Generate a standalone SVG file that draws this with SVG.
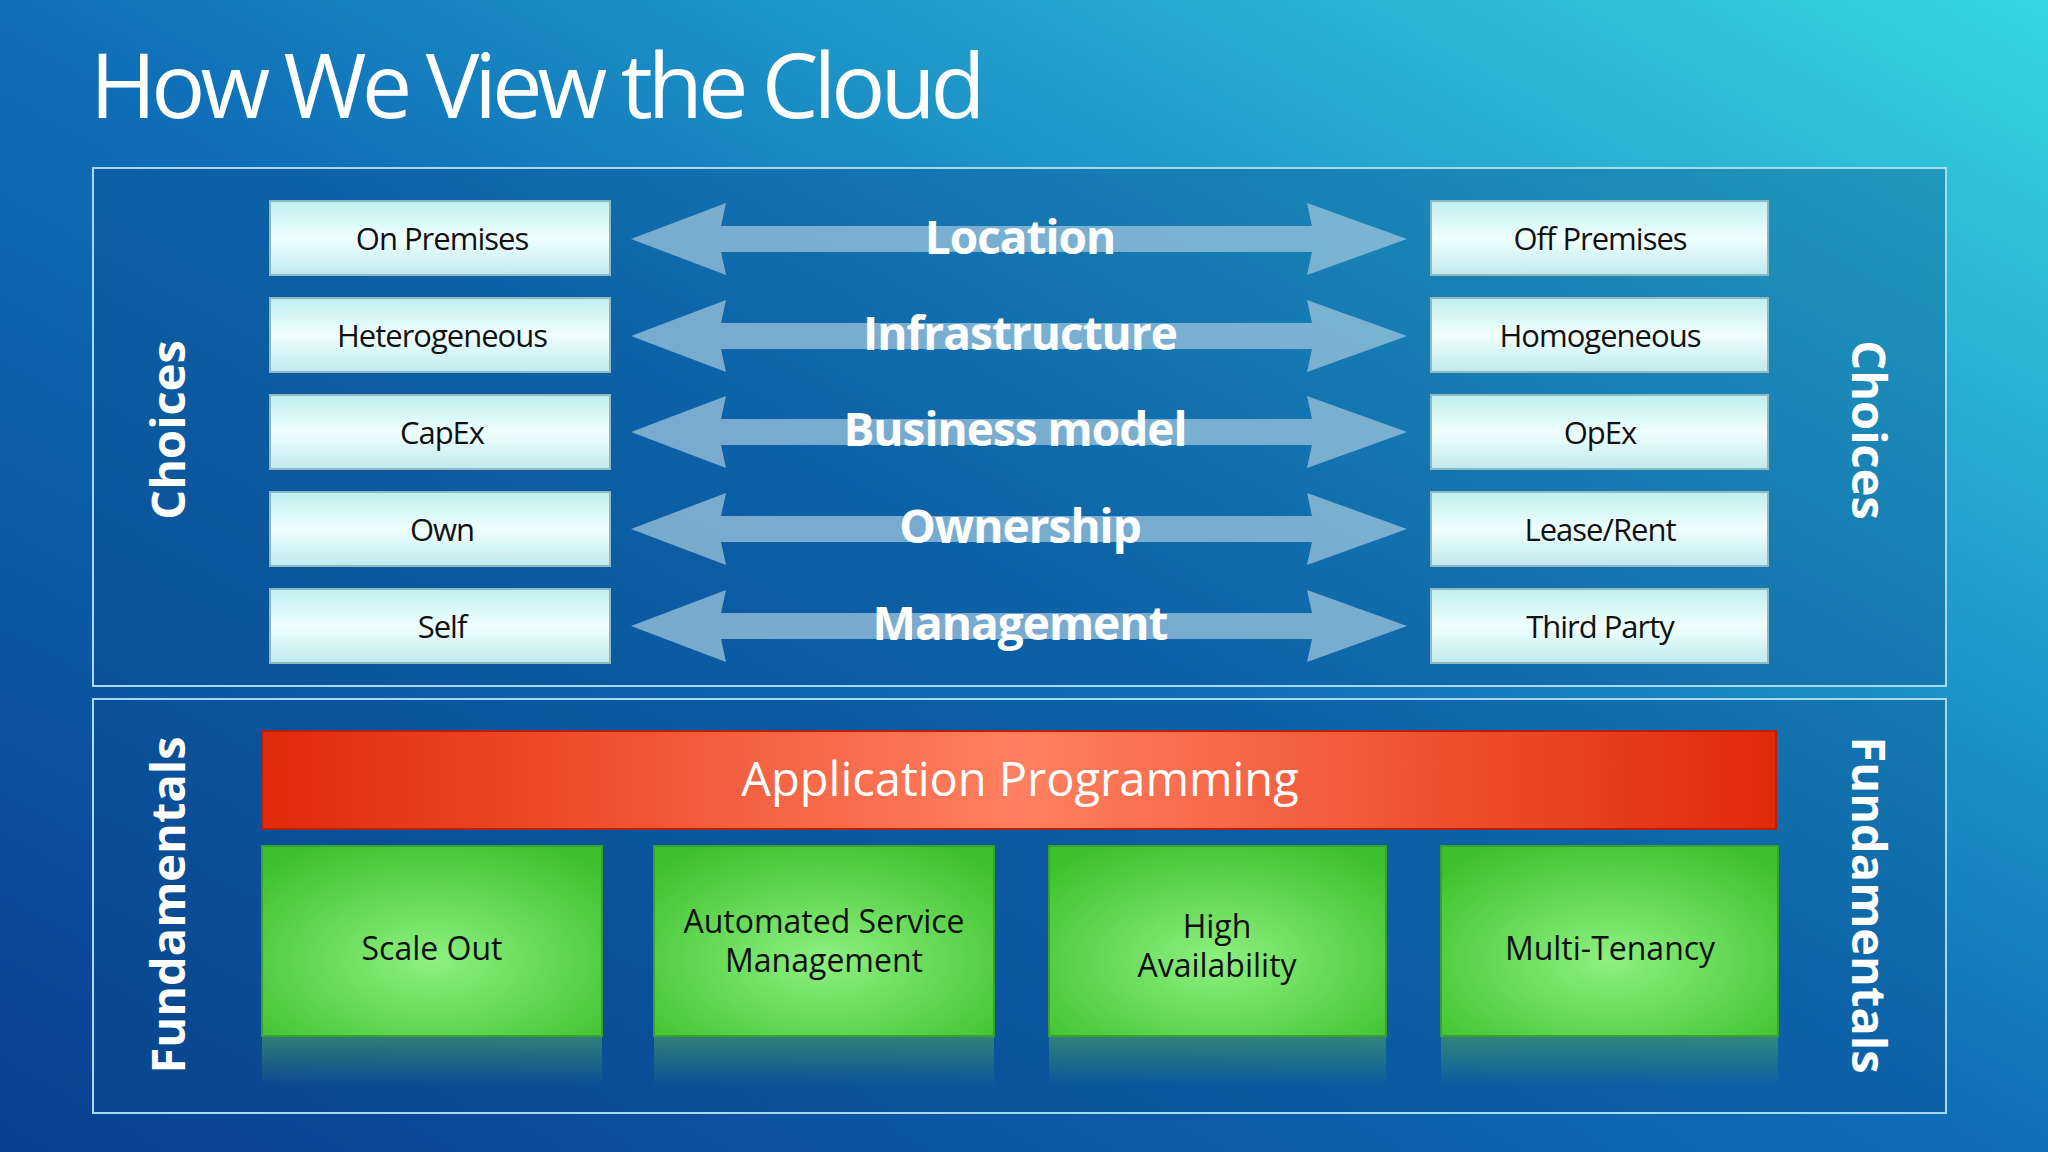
<svg xmlns="http://www.w3.org/2000/svg" width="2048" height="1152" viewBox="0 0 2048 1152">
<defs>
<linearGradient id="bg" x1="0" y1="1" x2="1" y2="0">
<stop offset="0" stop-color="#0a3f8f"/><stop offset="0.5" stop-color="#0f6fb8"/><stop offset="1" stop-color="#36d6e2"/>
</linearGradient>
<linearGradient id="box" x1="0" y1="0" x2="0" y2="1">
<stop offset="0" stop-color="#bfeff0"/><stop offset="0.5" stop-color="#f0ffff"/><stop offset="1" stop-color="#bfeaee"/>
</linearGradient>
<linearGradient id="red" x1="0" y1="0" x2="1" y2="0">
<stop offset="0" stop-color="#e02a0a"/><stop offset="0.5" stop-color="#ff8060"/><stop offset="1" stop-color="#e02a0a"/>
</linearGradient>
<radialGradient id="green" cx="0.5" cy="0.6" r="0.7">
<stop offset="0" stop-color="#8ef080"/><stop offset="1" stop-color="#3cc02c"/>
</radialGradient>
<linearGradient id="refl" x1="0" y1="0" x2="0" y2="1">
<stop offset="0" stop-color="#4aa060" stop-opacity="0.6"/><stop offset="1" stop-color="#4aa060" stop-opacity="0"/>
</linearGradient>
<path id="arr" d="M0,0 L95,-36 L90,-13 L681,-13 L676,-36 L776,0 L676,36 L681,13 L90,13 L95,36 Z"/>
</defs>
<style>
.panel{fill:#0a4a8a;fill-opacity:0.35;stroke:#a8d8ec;stroke-width:2}
.b{fill:url(#box);stroke:#8fb8c0;stroke-width:2}
.bt{font-family:"Open Sans",sans-serif;font-size:31px;fill:#111;text-anchor:middle;letter-spacing:-1px}
.lab{font-family:"Open Sans",sans-serif;font-weight:bold;font-size:46px;fill:#fff;text-anchor:middle;letter-spacing:-1px}
.arrow{fill:#9cc4dc;fill-opacity:0.75}
.side{font-family:"Open Sans",sans-serif;font-weight:bold;font-size:47px;fill:#fff;text-anchor:middle}
.g{fill:url(#green);stroke:#3aa030;stroke-width:2}
.gt{font-family:"Open Sans",sans-serif;font-size:32px;fill:#111;text-anchor:middle}
</style>
<rect width="2048" height="1152" fill="url(#bg)"/>
<text x="90" y="118" font-family="Open Sans, sans-serif" font-size="90" fill="#fff" letter-spacing="-5">How We View the Cloud</text>
<rect class="panel" x="93" y="168" width="1853" height="518"/>
<rect class="panel" x="93" y="699" width="1853" height="414"/>
<g id="connectors">
<use href="#arr" class="arrow" x="631" y="239"/>
<use href="#arr" class="arrow" x="631" y="336"/>
<use href="#arr" class="arrow" x="631" y="432"/>
<use href="#arr" class="arrow" x="631" y="529"/>
<use href="#arr" class="arrow" x="631" y="626"/>
</g>
<g id="labels">
<text class="lab" x="1020" y="254">Location</text>
<text class="lab" x="1020" y="350">Infrastructure</text>
<text class="lab" x="1015" y="446">Business model</text>
<text class="lab" x="1020" y="543">Ownership</text>
<text class="lab" x="1020" y="640">Management</text>
</g>
<g id="left-boxes">
<g id="n-onprem"><rect class="b" x="270" y="201" width="340" height="74"/><text class="bt" x="442" y="250">On Premises</text></g>
<g id="n-hetero"><rect class="b" x="270" y="298" width="340" height="74"/><text class="bt" x="442" y="347">Heterogeneous</text></g>
<g id="n-capex"><rect class="b" x="270" y="395" width="340" height="74"/><text class="bt" x="442" y="444">CapEx</text></g>
<g id="n-own"><rect class="b" x="270" y="492" width="340" height="74"/><text class="bt" x="442" y="541">Own</text></g>
<g id="n-self"><rect class="b" x="270" y="589" width="340" height="74"/><text class="bt" x="442" y="638">Self</text></g>
</g>
<g id="right-boxes">
<g id="n-offprem"><rect class="b" x="1431" y="201" width="337" height="74"/><text class="bt" x="1600" y="250">Off Premises</text></g>
<g id="n-homo"><rect class="b" x="1431" y="298" width="337" height="74"/><text class="bt" x="1600" y="347">Homogeneous</text></g>
<g id="n-opex"><rect class="b" x="1431" y="395" width="337" height="74"/><text class="bt" x="1600" y="444">OpEx</text></g>
<g id="n-lease"><rect class="b" x="1431" y="492" width="337" height="74"/><text class="bt" x="1600" y="541">Lease/Rent</text></g>
<g id="n-third"><rect class="b" x="1431" y="589" width="337" height="74"/><text class="bt" x="1600" y="638">Third Party</text></g>
</g>
<text class="side" transform="translate(185,430) rotate(-90)">Choices</text>
<text class="side" transform="translate(1852,430) rotate(90)">Choices</text>
<text class="side" transform="translate(185,905) rotate(-90)">Fundamentals</text>
<text class="side" transform="translate(1852,905) rotate(90)">Fundamentals</text>
<g id="n-app"><rect x="262" y="731" width="1514" height="98" fill="url(#red)" stroke="#b82000" stroke-width="2"/><text x="1020" y="796" font-family="Open Sans, sans-serif" font-size="47" fill="#fff" text-anchor="middle">Application Programming</text></g>
<g id="n-scale"><rect x="262" y="1036" width="340" height="50" fill="url(#refl)"/><rect class="g" x="262" y="846" width="340" height="190"/><text class="gt" x="432" y="960">Scale Out</text></g>
<g id="n-asm"><rect x="654" y="1036" width="340" height="50" fill="url(#refl)"/><rect class="g" x="654" y="846" width="340" height="190"/><text class="gt" x="824" y="933">Automated Service</text><text class="gt" x="824" y="972">Management</text></g>
<g id="n-ha"><rect x="1049" y="1036" width="337" height="50" fill="url(#refl)"/><rect class="g" x="1049" y="846" width="337" height="190"/><text class="gt" x="1217" y="938">High</text><text class="gt" x="1217" y="977">Availability</text></g>
<g id="n-mt"><rect x="1441" y="1036" width="337" height="50" fill="url(#refl)"/><rect class="g" x="1441" y="846" width="337" height="190"/><text class="gt" x="1610" y="960">Multi-Tenancy</text></g>
</svg>
